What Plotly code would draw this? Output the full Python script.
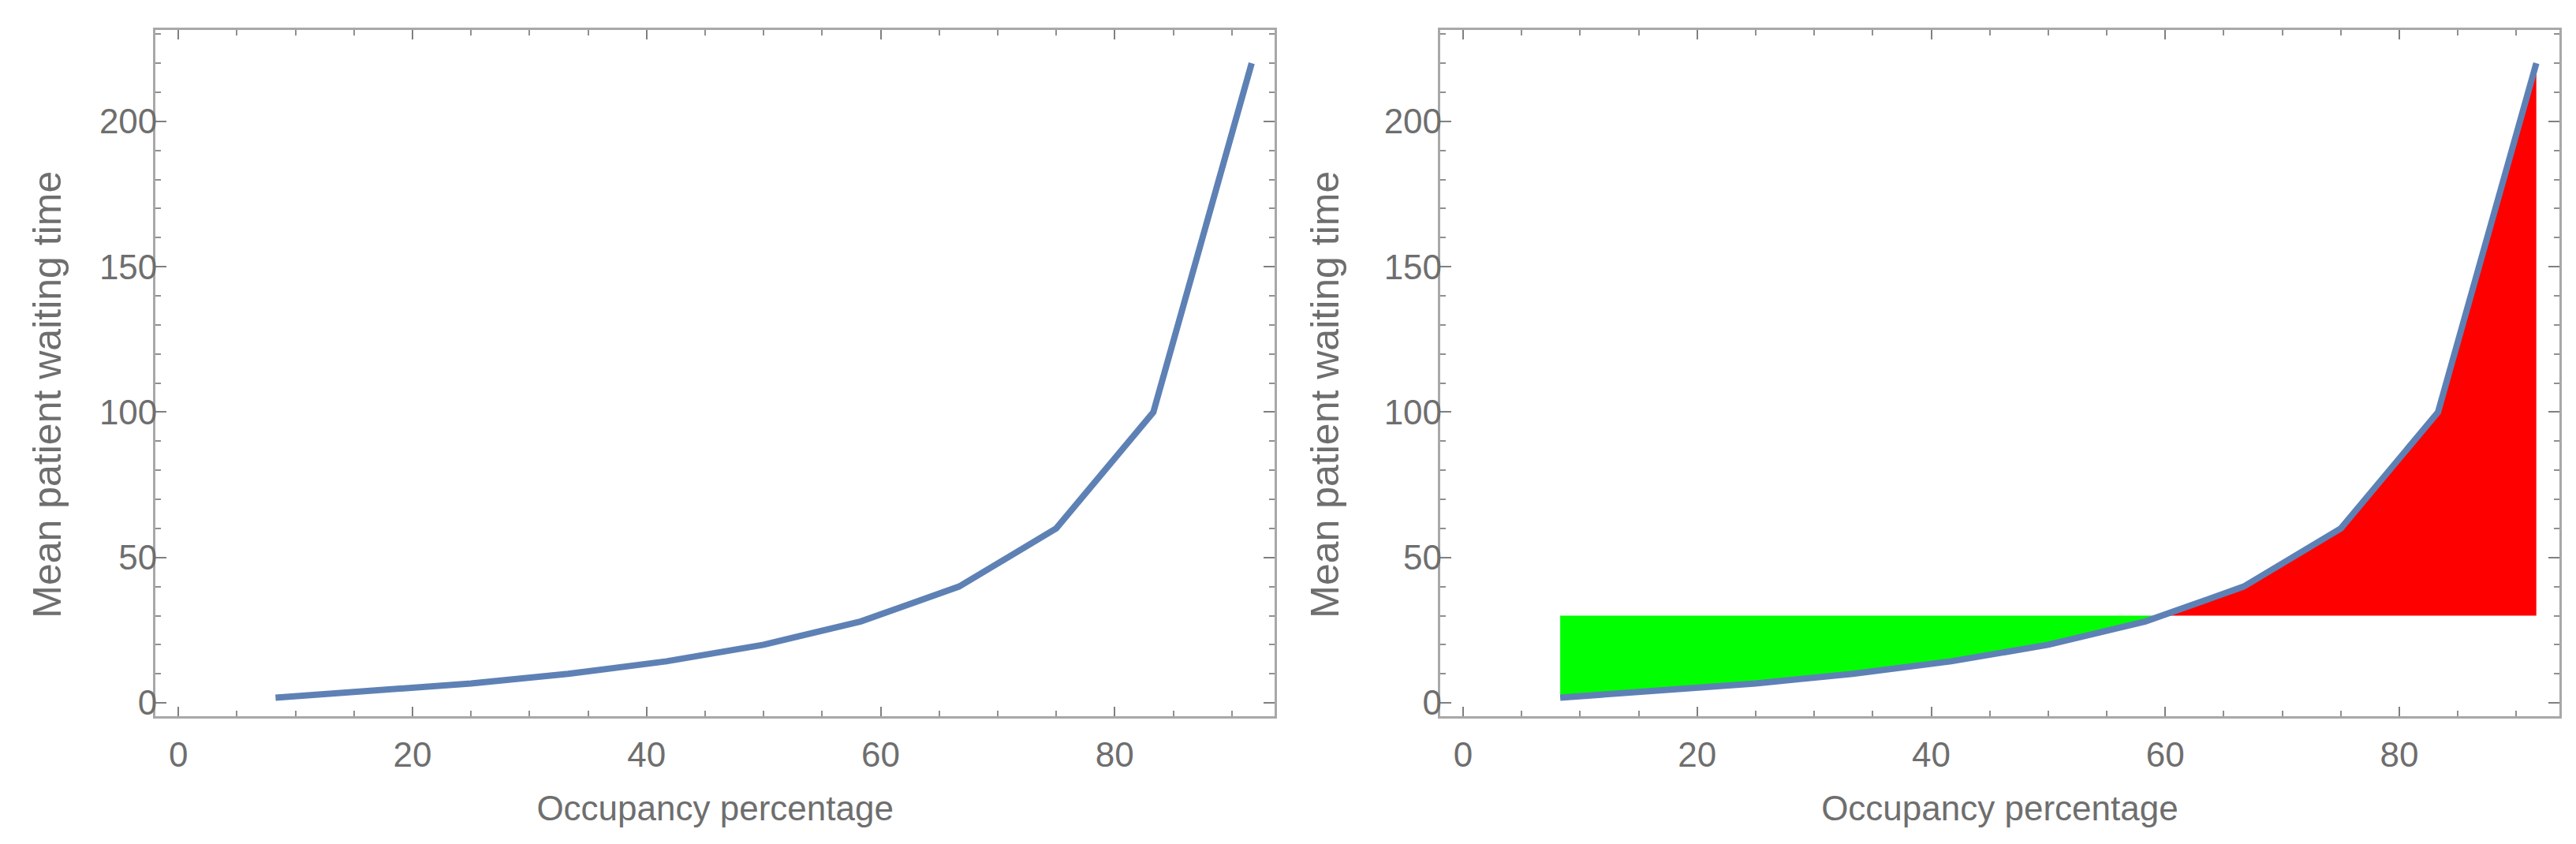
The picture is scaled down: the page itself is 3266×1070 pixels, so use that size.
import numpy as np
import plotly.graph_objects as go

# values
occupancy = [8.3, 16.7, 25.0, 33.3, 41.7, 50.0, 58.3, 66.7, 75.0, 83.3, 91.7]
wait_time = [1.8, 4.0, 6.7, 10.0, 14.3, 20.0, 28.0, 40.0, 60.0, 100.0, 220.0]
threshold = 30

x_ticks = [0, 20, 40, 60, 80]
y_ticks = [0, 50, 100, 150, 200]

line_col = "#5E81B5"
txt_col = "#6E6E6E"
font = "Liberation Sans, Arial, sans-serif"

# where the curve crosses the threshold
cross = float(np.interp(threshold, wait_time, occupancy))
below = [(x, y) for x, y in zip(occupancy, wait_time) if y < threshold]
above = [(x, y) for x, y in zip(occupancy, wait_time) if y > threshold]

green_x = [occupancy[0]] + [p[0] for p in below] + [cross]
green_y = [threshold] + [p[1] for p in below] + [threshold]
red_x = [cross] + [p[0] for p in above] + [occupancy[-1]]
red_y = [threshold] + [p[1] for p in above] + [threshold]

fig = go.Figure()

fig.add_trace(go.Scatter(x=occupancy, y=wait_time, mode="lines",
                         line=dict(color=line_col, width=8),
                         xaxis="x", yaxis="y", showlegend=False))

fig.add_trace(go.Scatter(x=green_x, y=green_y, mode="lines", fill="toself",
                         fillcolor="#00FF00", line=dict(width=0),
                         xaxis="x2", yaxis="y2", showlegend=False))
fig.add_trace(go.Scatter(x=red_x, y=red_y, mode="lines", fill="toself",
                         fillcolor="#FF0000", line=dict(width=0),
                         xaxis="x2", yaxis="y2", showlegend=False))
fig.add_trace(go.Scatter(x=occupancy, y=wait_time, mode="lines",
                         line=dict(color=line_col, width=8),
                         xaxis="x2", yaxis="y2", showlegend=False))


def xax(dom, anchor):
    return dict(domain=dom, anchor=anchor, range=[-1.96, 93.67],
                tickvals=x_ticks, ticks="inside", ticklen=12, tickwidth=2,
                tickcolor="#808080", showline=True, linecolor="#A8A8A8",
                linewidth=3, mirror="ticks", showgrid=False, zeroline=False,
                minor=dict(dtick=5, tick0=0, ticks="inside", ticklen=7,
                           tickwidth=2, tickcolor="#909090", showgrid=False),
                tickfont=dict(size=44, color=txt_col, family=font),
                ticklabelstandoff=8,
                title=dict(text="Occupancy percentage", standoff=30,
                           font=dict(size=44, color=txt_col, family=font)))


def yax(anchor):
    return dict(domain=[0.1533, 0.972], anchor=anchor, range=[-4.6, 231.5],
                tickvals=y_ticks, ticks="inside", ticklen=14, tickwidth=2,
                tickcolor="#808080", showline=True, linecolor="#A8A8A8",
                linewidth=3, mirror="ticks", showgrid=False, zeroline=False,
                minor=dict(dtick=10, tick0=0, ticks="inside", ticklen=7,
                           tickwidth=2, tickcolor="#909090", showgrid=False),
                tickfont=dict(size=44, color=txt_col, family=font),
                ticklabelstandoff=-14)


fig.update_layout(
    width=3266, height=1070,
    margin=dict(l=0, r=0, t=0, b=0),
    paper_bgcolor="white", plot_bgcolor="white",
    xaxis=xax([0.0579, 0.4924], "y"),
    yaxis=yax("x"),
    xaxis2=xax([0.5566, 0.9911], "y2"),
    yaxis2=yax("x2"),
)

# y titles sit a little below the middle of the frame, as in the original
for xpos in [52 / 3266, 1672 / 3266]:
    fig.add_annotation(text="Mean patient waiting time", textangle=-90,
                       xref="paper", yref="paper", x=xpos, y=1 - 496 / 1070,
                       xanchor="center", yanchor="middle", showarrow=False,
                       font=dict(size=50, color=txt_col, family=font))

fig.write_html("out.html")
